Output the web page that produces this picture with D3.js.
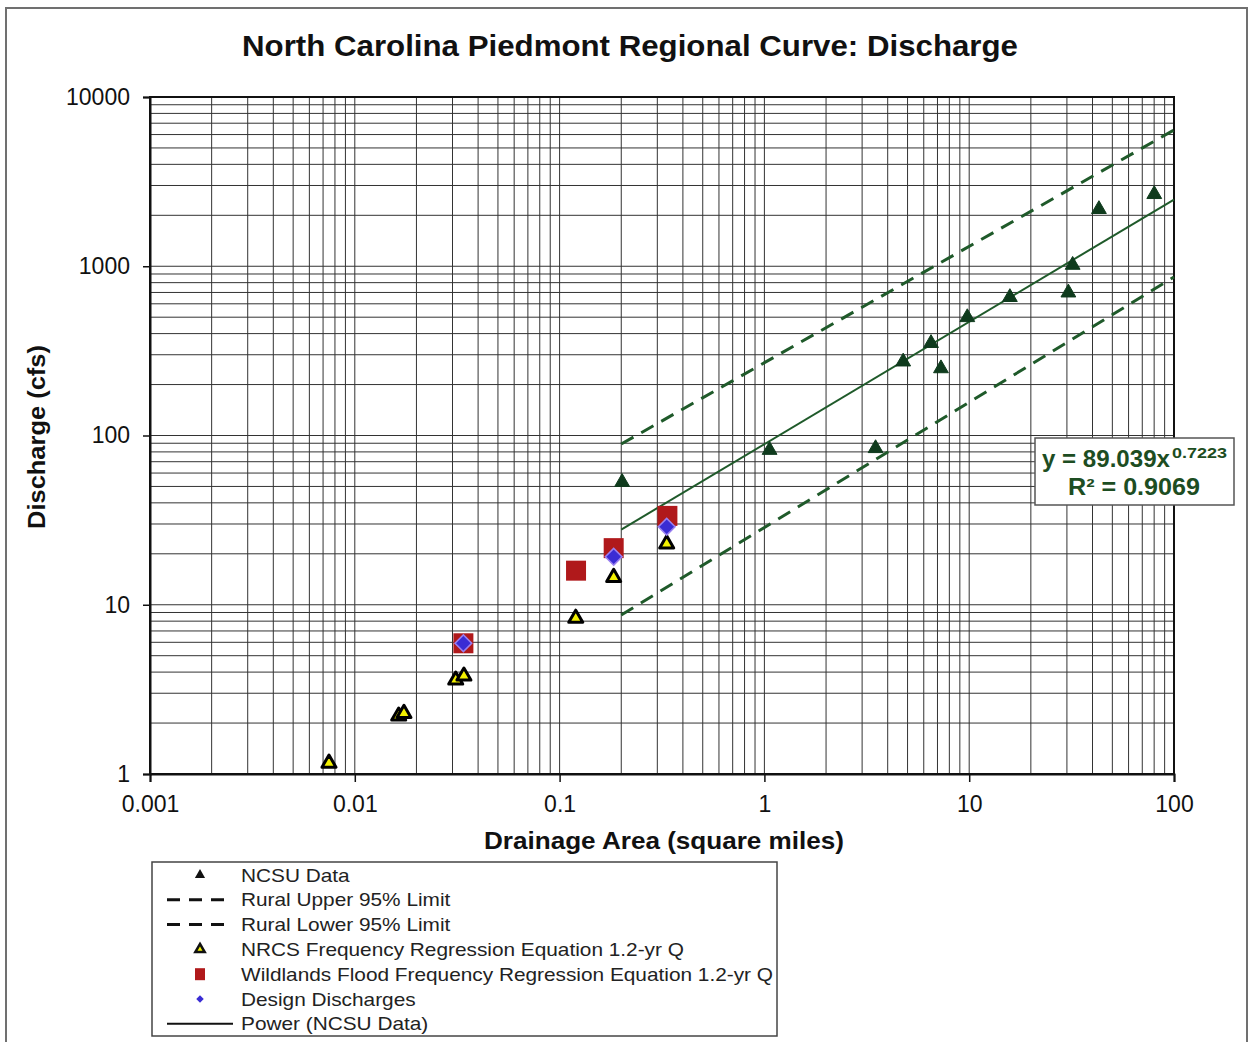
<!DOCTYPE html>
<html>
<head>
<meta charset="utf-8">
<script src="https://cdn.jsdelivr.net/npm/d3@7"></script>
<style>
  html, body { margin: 0; padding: 0; background: #fff; }
  svg { display: block; font-family: "Liberation Sans", Arial, sans-serif; }
</style>
</head>
<body>
<svg id="chart" width="1250" height="1042"></svg>
<script>
// ---------- data ----------
const xTickValues = [0.001, 0.01, 0.1, 1, 10, 100];
const xTickLabels = ["0.001", "0.01", "0.1", "1", "10", "100"];
const yTickValues = [1, 10, 100, 1000, 10000];
const yTickLabels = ["1", "10", "100", "1000", "10000"];

const ncsuArea = [0.202, 1.06, 3.49, 4.76, 6.51, 7.28, 9.79, 15.8, 30.5, 32.0, 43.0, 80.1];
const ncsuQ    = [53, 82, 84, 273, 351, 249, 499, 656, 698, 1017, 2172, 2663];

const upperArea = [0.2, 100];
const upperQ    = [89, 6385];
const lowerArea = [0.2, 100];
const lowerQ    = [8.7, 864];
const powerArea = [0.2, 100];
const powerQ    = [27.8, 2479];

const nrcsArea = [0.00748, 0.01638, 0.01738, 0.0311, 0.0341, 0.1199, 0.1837, 0.3334];
const nrcsQ    = [1.16, 2.20, 2.28, 3.59, 3.79, 8.32, 14.5, 22.9];

const wildArea = [0.0339, 0.1203, 0.1837, 0.336];
const wildQ    = [5.92, 15.9, 21.6, 33.5];

const designArea = [0.0339, 0.1837, 0.3334];
const designQ    = [5.92, 19.2, 28.9];

const legendLabels = [
  "NCSU Data",
  "Rural Upper 95% Limit",
  "Rural Lower 95% Limit",
  "NRCS Frequency Regression Equation 1.2-yr Q",
  "Wildlands Flood Frequency Regression Equation 1.2-yr Q",
  "Design Discharges",
  "Power (NCSU Data)"
];

// ---------- layout ----------
const svg = d3.select("#chart");
const L = 150, R = 1174, T = 97, B = 774;
const x = d3.scaleLog().domain([0.001, 100]).range([L, R]);
const y = d3.scaleLog().domain([1, 10000]).range([B, T]);

const green = "#1f5a2a";
const darkGreen = "#0f3b1d";
const gridColor = "#333";

// outer frame
svg.append("rect").attr("x", 6).attr("y", 8).attr("width", 1241).attr("height", 1045)
  .attr("fill", "#fff").attr("stroke", "#707070").attr("stroke-width", 2);

// title
svg.append("text").attr("x", 630).attr("y", 56).attr("text-anchor", "middle")
  .attr("font-size", 29).attr("font-weight", "bold").attr("fill", "#111")
  .attr("textLength", 776).attr("lengthAdjust", "spacingAndGlyphs")
  .text("North Carolina Piedmont Regional Curve: Discharge");

// grid values (majors + minors)
function gridVals(lo, hi) {
  const v = [];
  for (let d = lo; d < hi; d++) {
    for (let m = 1; m <= 9; m++) v.push(m * Math.pow(10, d));
  }
  v.push(Math.pow(10, hi));
  return v;
}
const xGrid = gridVals(-3, 2);
const yGrid = gridVals(0, 4);

const grid = svg.append("g");
grid.selectAll("line.vx").data(xGrid).join("line")
  .attr("x1", d => x(d)).attr("x2", d => x(d)).attr("y1", T).attr("y2", B)
  .attr("stroke", gridColor).attr("stroke-width", 1);
grid.selectAll("line.hy").data(yGrid).join("line")
  .attr("x1", L).attr("x2", R).attr("y1", d => y(d)).attr("y2", d => y(d))
  .attr("stroke", gridColor).attr("stroke-width", 1);

// plot border
svg.append("rect").attr("x", L).attr("y", T).attr("width", R - L).attr("height", B - T)
  .attr("fill", "none").attr("stroke", "#111").attr("stroke-width", 2);

// axes
const xAxis = d3.axisBottom(x).tickValues(xTickValues)
  .tickFormat((d, i) => xTickLabels[i]).tickSize(8).tickPadding(14);
const gx = svg.append("g").attr("transform", `translate(0,${B})`).call(xAxis);
gx.select(".domain").attr("stroke", "#111").attr("stroke-width", 2);
gx.selectAll(".tick line").attr("stroke", "#111").attr("stroke-width", 1.5);
gx.selectAll(".tick text").attr("font-size", 23).attr("fill", "#111")
  .attr("font-family", "'Liberation Sans', Arial, sans-serif");

const yAxis = d3.axisLeft(y).tickValues(yTickValues)
  .tickFormat((d, i) => yTickLabels[i]).tickSize(7).tickPadding(13);
const gy = svg.append("g").attr("transform", `translate(${L},0)`).call(yAxis);
gy.select(".domain").attr("stroke", "#111").attr("stroke-width", 2);
gy.selectAll(".tick line").attr("stroke", "#111").attr("stroke-width", 1.5);
gy.selectAll(".tick text").attr("font-size", 23).attr("fill", "#111")
  .attr("font-family", "'Liberation Sans', Arial, sans-serif");

// axis titles
svg.append("text").attr("x", 664).attr("y", 849).attr("text-anchor", "middle")
  .attr("font-size", 24).attr("font-weight", "bold").attr("fill", "#111")
  .attr("textLength", 360).attr("lengthAdjust", "spacingAndGlyphs")
  .text("Drainage Area (square miles)");
svg.append("text").attr("transform", "translate(45,437) rotate(-90)")
  .attr("text-anchor", "middle").attr("font-size", 24).attr("font-weight", "bold").attr("fill", "#111")
  .attr("textLength", 184).attr("lengthAdjust", "spacingAndGlyphs")
  .text("Discharge (cfs)");

// lines
const line = d3.line().x(d => x(d[0])).y(d => y(d[1]));
svg.append("path").attr("d", line(upperArea.map((a, i) => [a, upperQ[i]])))
  .attr("fill", "none").attr("stroke", green).attr("stroke-width", 3).attr("stroke-dasharray", "14,9");
svg.append("path").attr("d", line(lowerArea.map((a, i) => [a, lowerQ[i]])))
  .attr("fill", "none").attr("stroke", green).attr("stroke-width", 3).attr("stroke-dasharray", "14,9");
svg.append("path").attr("d", line(powerArea.map((a, i) => [a, powerQ[i]])))
  .attr("fill", "none").attr("stroke", green).attr("stroke-width", 2);

// markers
const tri = d3.symbol().type(d3.symbolTriangle);
svg.append("g").selectAll("path").data(ncsuArea.map((a, i) => [a, ncsuQ[i]])).join("path")
  .attr("d", tri.size(95)())
  .attr("transform", d => `translate(${x(d[0])},${y(d[1])})`)
  .attr("fill", darkGreen).attr("stroke", darkGreen).attr("stroke-width", 1);

svg.append("g").selectAll("rect").data(wildArea.map((a, i) => [a, wildQ[i]])).join("rect")
  .attr("x", d => x(d[0]) - 10).attr("y", d => y(d[1]) - 10)
  .attr("width", 20).attr("height", 20).attr("fill", "#b0191b");

svg.append("g").selectAll("path").data(nrcsArea.map((a, i) => [a, nrcsQ[i]])).join("path")
  .attr("d", d3.symbol().type(d3.symbolTriangle).size(85)())
  .attr("transform", d => `translate(${x(d[0])},${y(d[1])})`)
  .attr("fill", "#f2f000").attr("stroke", "#000").attr("stroke-width", 3).attr("stroke-linejoin", "round");

svg.append("g").selectAll("path").data(designArea.map((a, i) => [a, designQ[i]])).join("path")
  .attr("d", d3.symbol().type(d3.symbolSquare).size(140)())
  .attr("transform", d => `translate(${x(d[0])},${y(d[1])}) rotate(45)`)
  .attr("fill", "#3a2cd4").attr("stroke", "#9a80f0").attr("stroke-width", 1.5);

// equation box
const eq = svg.append("g");
eq.append("rect").attr("x", 1035).attr("y", 438).attr("width", 199).attr("height", 67)
  .attr("fill", "#fff").attr("stroke", "#555").attr("stroke-width", 1.5);
eq.append("text").attr("x", 1042).attr("y", 467)
  .attr("font-size", 23).attr("font-weight", "bold").attr("fill", "#1d4d22")
  .attr("textLength", 128).attr("lengthAdjust", "spacingAndGlyphs")
  .text("y = 89.039x");
eq.append("text").attr("x", 1172).attr("y", 458)
  .attr("font-size", 15).attr("font-weight", "bold").attr("fill", "#1d4d22")
  .attr("textLength", 55).attr("lengthAdjust", "spacingAndGlyphs")
  .text("0.7223");
eq.append("text").attr("x", 1134).attr("y", 495).attr("text-anchor", "middle")
  .attr("font-size", 23).attr("font-weight", "bold").attr("fill", "#1d4d22")
  .attr("textLength", 132).attr("lengthAdjust", "spacingAndGlyphs")
  .text("R² = 0.9069");

// legend
const lg = svg.append("g");
lg.append("rect").attr("x", 152).attr("y", 862).attr("width", 625).attr("height", 174)
  .attr("fill", "#fff").attr("stroke", "#444").attr("stroke-width", 1.5);
const rowY = i => 875 + i * 24.8;
const legTexts = lg.selectAll("text").data(legendLabels).join("text")
  .attr("x", 241).attr("y", (d, i) => rowY(i) + 6.5)
  .attr("font-size", 18.5).attr("fill", "#222").text(d => d);
// stretch so that the longest label spans the same width as in the reference
const longest = legTexts.filter((d, i) => i === 4).node().getComputedTextLength();
const stretch = 532 / longest;
legTexts.each(function () {
  const w = this.getComputedTextLength();
  d3.select(this).attr("textLength", w * stretch).attr("lengthAdjust", "spacingAndGlyphs");
});

const sx = 200;
lg.append("path").attr("d", d3.symbol().type(d3.symbolTriangle).size(45)())
  .attr("transform", `translate(${sx},${rowY(0)})`).attr("fill", "#111");
[1, 2].forEach(i => {
  lg.append("line").attr("x1", 167).attr("x2", 232).attr("y1", rowY(i)).attr("y2", rowY(i))
    .attr("stroke", "#111").attr("stroke-width", 3).attr("stroke-dasharray", "13,9");
});
lg.append("path").attr("d", d3.symbol().type(d3.symbolTriangle).size(38)())
  .attr("transform", `translate(${sx},${rowY(3)})`)
  .attr("fill", "#f2f000").attr("stroke", "#111").attr("stroke-width", 2.5);
lg.append("rect").attr("x", sx - 5).attr("y", rowY(4) - 6).attr("width", 10).attr("height", 12)
  .attr("fill", "#b0191b");
lg.append("path").attr("d", d3.symbol().type(d3.symbolSquare).size(28)())
  .attr("transform", `translate(${sx},${rowY(5)}) rotate(45)`).attr("fill", "#3a2cd4");
lg.append("line").attr("x1", 167).attr("x2", 233).attr("y1", rowY(6)).attr("y2", rowY(6))
  .attr("stroke", "#111").attr("stroke-width", 2);
</script>
</body>
</html>
